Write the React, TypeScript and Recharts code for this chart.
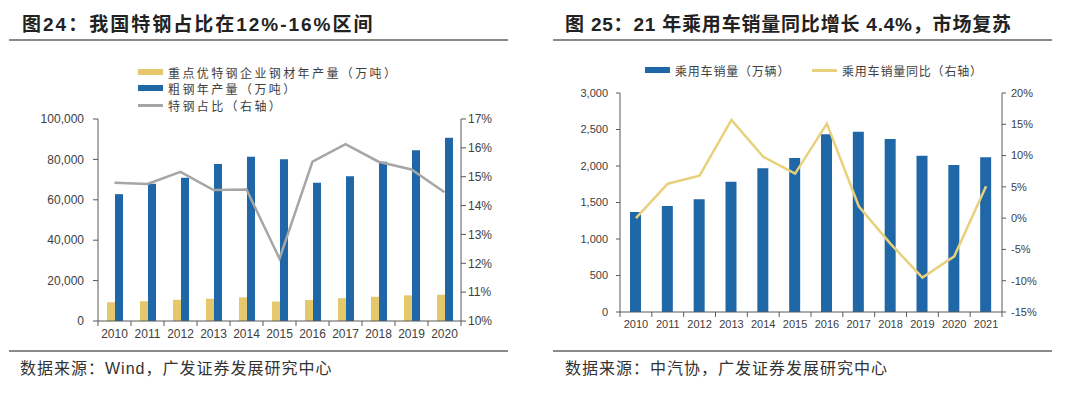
import React from "react";
import {
  ComposedChart,
  Bar,
  Line,
  XAxis,
  YAxis,
} from "recharts";

// 图24 data
const steelYears = ["2010", "2011", "2012", "2013", "2014", "2015", "2016", "2017", "2018", "2019", "2020"];
const specialSteel = [9300, 9800, 10500, 11000, 11700, 9600, 10400, 11300, 12000, 12700, 13000];
const crudeSteel = [62800, 67900, 70900, 77700, 81300, 80100, 68500, 71700, 78800, 84500, 90700];
const specialRatio = [14.79, 14.75, 15.17, 14.54, 14.56, 12.16, 15.52, 16.13, 15.52, 15.25, 14.46];
const steelLeftTicks = [0, 20000, 40000, 60000, 80000, 100000];
const steelRightTicks = [10, 11, 12, 13, 14, 15, 16, 17];

// 图25 data
const carYears = ["2010", "2011", "2012", "2013", "2014", "2015", "2016", "2017", "2018", "2019", "2020", "2021"];
const carSales = [1370, 1452, 1543, 1785, 1968, 2110, 2434, 2470, 2370, 2142, 2014, 2119];
const carYoY = [0, 5.5, 6.8, 15.7, 9.8, 7.1, 15.1, 1.9, -4.1, -9.5, -6.1, 5.1];
const carLeftTicks = [0, 500, 1000, 1500, 2000, 2500, 3000];
const carRightTicks = [-15, -10, -5, 0, 5, 10, 15, 20];

const steelData = steelYears.map((year, i) => ({
  year,
  special: specialSteel[i],
  crude: crudeSteel[i],
  ratio: specialRatio[i],
}));

const carData = carYears.map((year, i) => ({
  year,
  sales: carSales[i],
  yoy: carYoY[i],
}));

const BLUE = "#1f67a7";
const YELLOW = "#e5c76c";
const GRAY_LINE = "#a6a6a6";
const PALE_YELLOW = "#e8d07c";
const AXIS = "#595959";
const TEXT = "#404040";
const NUM_FONT = '"Liberation Sans", Arial, sans-serif';
const CJK_FONT = '"Liberation Sans", "Noto Sans CJK SC", sans-serif';

const fmtNum = (v: number) => v.toLocaleString("en-US");
const fmtPct = (v: number) => `${v}%`;

// x tick with tick marks on category boundaries
const makeXTick = (band: number, count: number, fontSize: number) => (props: any) => {
  const { x, y, payload, index } = props;
  const axisY = y - 8;
  return (
    <g>
      <line x1={x - band / 2} x2={x - band / 2} y1={axisY} y2={axisY + 5} stroke={AXIS} />
      {index === count - 1 && (
        <line x1={x + band / 2} x2={x + band / 2} y1={axisY} y2={axisY + 5} stroke={AXIS} />
      )}
      <text x={x} y={y} dy="0.71em" textAnchor="middle" fontSize={fontSize} fill={TEXT} fontFamily={NUM_FONT}>
        {payload.value}
      </text>
    </g>
  );
};

const Title: React.FC<{ left: number; text: string; spacing: number }> = ({ left, text, spacing }) => (
  <div
    style={{
      position: "absolute",
      left,
      top: 12,
      fontSize: 19,
      fontWeight: "bold",
      color: "#222",
      fontFamily: CJK_FONT,
      whiteSpace: "nowrap",
      lineHeight: "26px",
      letterSpacing: spacing,
    }}
  >
    {text}
  </div>
);

const Rule: React.FC<{ left: number; width: number; top: number }> = ({ left, width, top }) => (
  <div style={{ position: "absolute", left, top, width, height: 2, background: "#8a8a8a" }} />
);

const Source: React.FC<{ left: number; text: string }> = ({ left, text }) => (
  <div
    style={{
      position: "absolute",
      left,
      top: 358,
      fontSize: 16,
      color: "#333",
      fontFamily: CJK_FONT,
      whiteSpace: "nowrap",
      lineHeight: "22px",
      letterSpacing: 1,
    }}
  >
    {text}
  </div>
);

const LegendRow: React.FC<{
  left: number;
  top: number;
  kind: "bar" | "line";
  color: string;
  label: string;
  spacing: number;
}> = ({ left, top, kind, color, label, spacing }) => (
  <div
    style={{
      position: "absolute",
      left,
      top: top - 8,
      height: 16,
      display: "flex",
      alignItems: "center",
      whiteSpace: "nowrap",
    }}
  >
    <div style={{ width: 25, height: kind === "bar" ? 6 : 3, background: color, marginRight: 5 }} />
    <span style={{ fontSize: 12, color: TEXT, fontFamily: CJK_FONT, letterSpacing: spacing }}>{label}</span>
  </div>
);

const App: React.FC = () => {
  const steelBand = 363 / steelYears.length;
  const carBand = 382 / carYears.length;
  return (
    <div style={{ position: "absolute", left: 0, top: 0, width: 1080, height: 398, background: "#fff", overflow: "hidden" }}>
      {/* 图24 */}
      <Title left={22} text="图24：我国特钢占比在12%-16%区间" spacing={2} />
      <Rule left={9} width={499} top={39} />
      <LegendRow left={138} top={72} kind="bar" color={YELLOW} label="重点优特钢企业钢材年产量（万吨）" spacing={2.4} />
      <LegendRow left={138} top={88} kind="bar" color={BLUE} label="粗钢年产量（万吨）" spacing={2.4} />
      <LegendRow left={138} top={105} kind="line" color={GRAY_LINE} label="特钢占比（右轴）" spacing={2.4} />
      <div style={{ position: "absolute", left: 0, top: 0 }}>
        <ComposedChart
          width={540}
          height={350}
          data={steelData}
          margin={{ top: 119, right: 0, left: 0, bottom: 4 }}
          barGap={0}
        >
          <XAxis
            dataKey="year"
            height={25}
            tickLine={false}
            tickSize={0}
            tickMargin={8}
            stroke={AXIS}
            interval={0}
            tick={makeXTick(steelBand, steelYears.length, 12)}
          />
          <YAxis
            yAxisId="left"
            width={98}
            domain={[0, 100000]}
            ticks={steelLeftTicks}
            tickFormatter={fmtNum}
            tickSize={5}
            tickMargin={9}
            stroke={AXIS}
            tick={{ fill: TEXT, fontSize: 12, fontFamily: NUM_FONT }}
          />
          <YAxis
            yAxisId="right"
            orientation="right"
            width={79}
            domain={[10, 17]}
            ticks={steelRightTicks}
            tickFormatter={fmtPct}
            tickSize={5}
            tickMargin={2}
            stroke={AXIS}
            tick={{ fill: TEXT, fontSize: 12, fontFamily: NUM_FONT }}
          />
          <Bar yAxisId="left" dataKey="special" fill={YELLOW} barSize={8} isAnimationActive={false} />
          <Bar yAxisId="left" dataKey="crude" fill={BLUE} barSize={8} isAnimationActive={false} />
          <Line
            yAxisId="right"
            dataKey="ratio"
            stroke={GRAY_LINE}
            strokeWidth={2.5}
            dot={false}
            type="linear"
            isAnimationActive={false}
          />
        </ComposedChart>
      </div>
      <Rule left={9} width={499} top={350} />
      <Source left={20} text="数据来源：Wind，广发证券发展研究中心" />

      {/* 图25 */}
      <Title left={565} text="图 25：21 年乘用车销量同比增长 4.4%，市场复苏" spacing={0.8} />
      <Rule left={553} width={499} top={39} />
      <LegendRow left={645} top={70} kind="bar" color={BLUE} label="乘用车销量（万辆）" spacing={0.8} />
      <LegendRow left={812} top={70} kind="line" color={PALE_YELLOW} label="乘用车销量同比（右轴）" spacing={0.8} />
      <div style={{ position: "absolute", left: 540, top: 0 }}>
        <ComposedChart
          width={540}
          height={350}
          data={carData}
          margin={{ top: 93, right: 0, left: 0, bottom: 13 }}
        >
          <XAxis
            dataKey="year"
            height={25}
            tickLine={false}
            tickSize={0}
            tickMargin={8}
            stroke={AXIS}
            interval={0}
            tick={makeXTick(carBand, carYears.length, 11)}
          />
          <YAxis
            yAxisId="left"
            width={80}
            domain={[0, 3000]}
            ticks={carLeftTicks}
            tickFormatter={fmtNum}
            tickSize={4}
            tickMargin={8}
            stroke={AXIS}
            tick={{ fill: TEXT, fontSize: 11, fontFamily: NUM_FONT }}
          />
          <YAxis
            yAxisId="right"
            orientation="right"
            width={78}
            domain={[-15, 20]}
            ticks={carRightTicks}
            tickFormatter={fmtPct}
            tickSize={4}
            tickMargin={5}
            stroke={AXIS}
            tick={{ fill: TEXT, fontSize: 11, fontFamily: NUM_FONT }}
          />
          <Bar yAxisId="left" dataKey="sales" fill={BLUE} barSize={11} isAnimationActive={false} />
          <Line
            yAxisId="right"
            dataKey="yoy"
            stroke={PALE_YELLOW}
            strokeWidth={2.5}
            dot={false}
            type="linear"
            isAnimationActive={false}
          />
        </ComposedChart>
      </div>
      <Rule left={553} width={499} top={350} />
      <Source left={565} text="数据来源：中汽协，广发证券发展研究中心" />
    </div>
  );
};

export default App;
